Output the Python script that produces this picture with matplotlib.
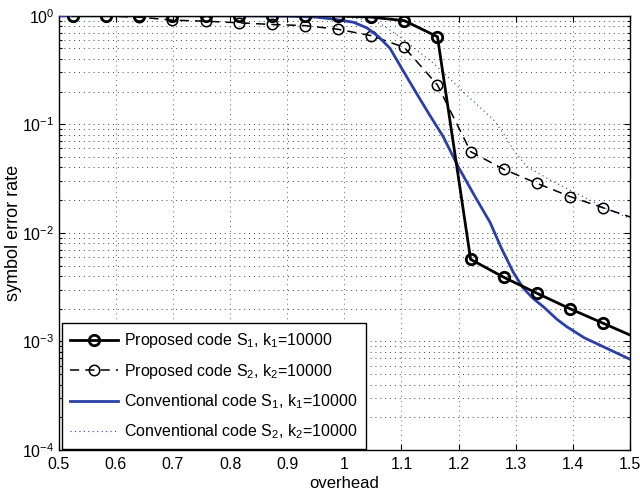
import matplotlib
matplotlib.use("Agg")
import matplotlib.pyplot as plt
from matplotlib.ticker import LogLocator, NullFormatter, MultipleLocator, FormatStrFormatter

plt.rcParams["font.family"] = ["Liberation Sans", "DejaVu Sans"]
plt.rcParams["mathtext.fontset"] = "custom"
plt.rcParams["mathtext.rm"] = "Liberation Sans"
plt.rcParams["mathtext.it"] = "Liberation Sans:italic"

# ---- data ----
overhead = [0.525, 0.583, 0.641, 0.699, 0.757, 0.815, 0.873, 0.931, 0.989,
            1.047, 1.105, 1.163, 1.221, 1.279, 1.337, 1.395, 1.453, 1.511]
prop_s1 = [1.0, 1.0, 1.0, 1.0, 1.0, 1.0, 1.0, 1.0, 0.995,
           0.97, 0.90, 0.64, 0.0057, 0.0039, 0.00278, 0.0020, 0.00147, 0.00108]
prop_s2 = [1.0, 0.99, 0.97, 0.91, 0.89, 0.86, 0.83, 0.81, 0.75,
           0.655, 0.51, 0.23, 0.056, 0.0385, 0.0286, 0.0216, 0.017, 0.0134]

conv_s1_x = [0.5, 0.6, 0.7, 0.8, 0.85, 0.9, 0.95, 0.981, 1.016, 1.04, 1.06,
             1.08, 1.1, 1.127, 1.15, 1.173, 1.2, 1.23, 1.255, 1.275, 1.296,
             1.313, 1.33, 1.35, 1.372, 1.389, 1.42, 1.453, 1.5]
conv_s1 = [1.0, 1.0, 1.0, 1.0, 0.995, 0.99, 0.97, 0.93, 0.87, 0.77, 0.64,
           0.50, 0.33, 0.19, 0.12, 0.077, 0.04, 0.021, 0.0125, 0.0072, 0.0043,
           0.0031, 0.0025, 0.00205, 0.0016, 0.00137, 0.00108, 0.000895, 0.000685]

conv_s2_x = [0.5, 0.9, 1.0, 1.03, 1.062, 1.097, 1.156, 1.214, 1.261, 1.278,
             1.296, 1.319, 1.36, 1.389, 1.43, 1.46, 1.5]
conv_s2 = [1.0, 1.0, 0.97, 0.93, 0.85, 0.64, 0.365, 0.186, 0.11, 0.083,
           0.058, 0.041, 0.0307, 0.0257, 0.02, 0.0165, 0.0135]

labels = [
    "Proposed code S$_1$, k$_1$=10000",
    "Proposed code S$_2$, k$_2$=10000",
    "Conventional code S$_1$, k$_1$=10000",
    "Conventional code S$_2$, k$_2$=10000",
]
blue = "#2b3fa6"

fig = plt.figure(figsize=(6.4, 4.95), dpi=100)
ax = fig.add_axes([0.0917, 0.0909, 0.8927, 0.8774])

ax.plot(overhead, prop_s1, color="k", lw=2.0, marker="o", ms=7.5,
        mfc="none", mew=2.0, label=labels[0], zorder=4)
ax.plot(overhead, prop_s2, color="k", lw=1.1, ls=(0, (6, 4)), marker="o",
        ms=7.5, mfc="none", mew=1.1, label=labels[1], zorder=3)
ax.plot(conv_s1_x, conv_s1, color=blue, lw=2.0, label=labels[2], zorder=3)
ax.plot(conv_s2_x, conv_s2, color=blue, lw=0.8, ls=(0, (1, 3)),
        label=labels[3], zorder=2)

ax.set_yscale("log")
ax.set_xlim(0.5, 1.5)
ax.set_ylim(1e-4, 1)
ax.xaxis.set_major_locator(MultipleLocator(0.1))
ax.xaxis.set_major_formatter(FormatStrFormatter("%g"))
ax.yaxis.set_major_locator(LogLocator(base=10, numticks=10))
ax.yaxis.set_minor_locator(LogLocator(base=10, subs=range(2, 10), numticks=10))
ax.yaxis.set_minor_formatter(NullFormatter())

ax.tick_params(which="both", direction="in", top=True, right=True,
               labelsize=11.5, width=0.8)
ax.tick_params(which="major", length=4)
ax.tick_params(which="minor", length=2.5)
ax.tick_params(axis="x", which="major", pad=5)
ax.tick_params(axis="y", which="major", pad=3)
for s in ax.spines.values():
    s.set_linewidth(1.0)

ax.grid(True, which="major", axis="x", color="#666666", ls=(0, (1, 4)), lw=0.7)
ax.grid(True, which="both", axis="y", color="#444444", ls=(0, (1, 4)), lw=0.7)
ax.set_axisbelow(True)

ax.set_xlabel("overhead", fontsize=12, labelpad=3)
ax.set_ylabel("symbol error rate", fontsize=13, labelpad=0)

leg = ax.legend(loc="lower left", bbox_to_anchor=(0.006, 0.002),
                borderaxespad=0, fancybox=False, framealpha=1,
                edgecolor="k", fontsize=11.5, handlelength=3.0,
                handletextpad=0.4, labelspacing=0.72, borderpad=0.5)
leg.get_frame().set_linewidth(1.0)

fig.savefig("out.png", dpi=100)
